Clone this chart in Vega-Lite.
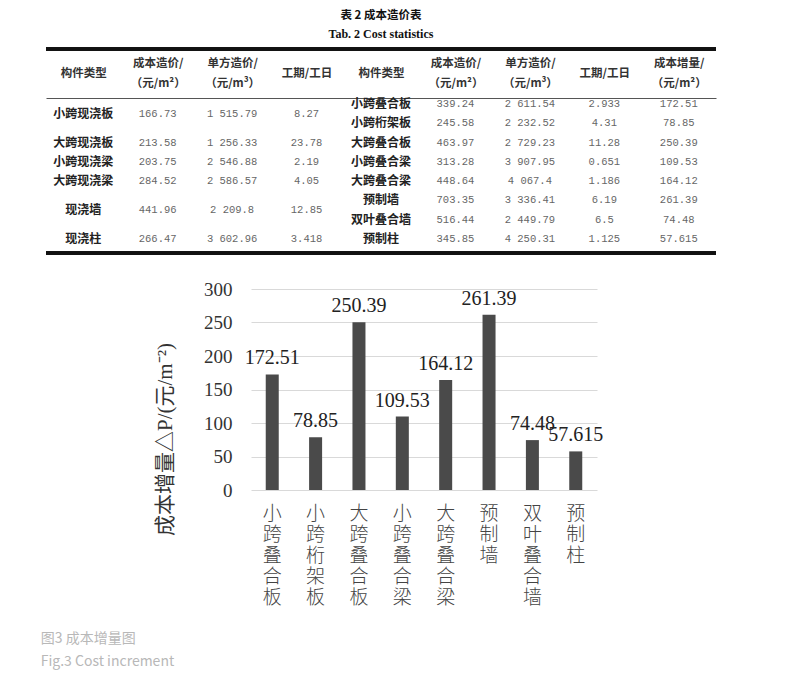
{
  "$schema": "https://vega.github.io/schema/vega-lite/v6.json",
  "background": "white",
  "padding": {"left": 40, "top": 10, "right": 5, "bottom": 5},
  "datasets": {
    "cost": [
      {"row": 1.5, "Lname": "小跨现浇板", "Lcost": 166.73, "Lunit": 1515.79, "Ldays": 8.27},
      {"row": 3, "Lname": "大跨现浇板", "Lcost": 213.58, "Lunit": 1256.33, "Ldays": 23.78},
      {"row": 4, "Lname": "小跨现浇梁", "Lcost": 203.75, "Lunit": 2546.88, "Ldays": 2.19},
      {"row": 5, "Lname": "大跨现浇梁", "Lcost": 284.52, "Lunit": 2586.57, "Ldays": 4.05},
      {"row": 6.5, "Lname": "现浇墙", "Lcost": 441.96, "Lunit": 2209.8, "Ldays": 12.85},
      {"row": 8, "Lname": "现浇柱", "Lcost": 266.47, "Lunit": 3602.96, "Ldays": 3.418},
      {"row": 1, "Rname": "小跨叠合板", "Rcost": 339.24, "Runit": 2611.54, "Rdays": 2.933, "Rincr": 172.51},
      {"row": 2, "Rname": "小跨桁架板", "Rcost": 245.58, "Runit": 2232.52, "Rdays": 4.31, "Rincr": 78.85},
      {"row": 3, "Rname": "大跨叠合板", "Rcost": 463.97, "Runit": 2729.23, "Rdays": 11.28, "Rincr": 250.39},
      {"row": 4, "Rname": "小跨叠合梁", "Rcost": 313.28, "Runit": 3907.95, "Rdays": 0.651, "Rincr": 109.53},
      {"row": 5, "Rname": "大跨叠合梁", "Rcost": 448.64, "Runit": 4067.4, "Rdays": 1.186, "Rincr": 164.12},
      {"row": 6, "Rname": "预制墙", "Rcost": 703.35, "Runit": 3336.41, "Rdays": 6.19, "Rincr": 261.39},
      {"row": 7, "Rname": "双叶叠合墙", "Rcost": 516.44, "Runit": 2449.79, "Rdays": 6.5, "Rincr": 74.48},
      {"row": 8, "Rname": "预制柱", "Rcost": 345.85, "Runit": 4250.31, "Rdays": 1.125, "Rincr": 57.615}
    ]
  },
  "title": {
    "text": ["图3 成本增量图", "Fig.3 Cost increment"],
    "orient": "bottom",
    "anchor": "start",
    "dx": -4,
    "font": "'Noto Sans CJK SC'",
    "fontSize": 14,
    "fontWeight": "normal",
    "color": "#b8b8b8",
    "lineHeight": 23,
    "offset": 25
  },
  "spacing": 25,
  "vconcat": [
    {
      "width": 670,
      "height": 155,
      "title": {
        "text": "表 2  成本造价表",
        "subtitle": "Tab. 2  Cost statistics",
        "anchor": "middle",
        "font": "'Noto Sans CJK SC'",
        "fontSize": 11.5,
        "fontWeight": "bold",
        "color": "#111",
        "subtitleFont": "'Liberation Serif'",
        "subtitleFontSize": 12,
        "subtitleFontWeight": "bold",
        "subtitleColor": "#111",
        "subtitlePadding": 7,
        "offset": 8
      },
      "data": {"name": "cost"},
      "layer": [
        {
          "transform": [{"fold": ["Lname", "Rname"]}, {"filter": "datum.value != null"}],
          "mark": {"type": "text", "font": "'Noto Sans CJK SC'", "fontSize": 12, "fontWeight": "bold", "color": "#222"},
          "encoding": {
            "x": {
              "field": "key",
              "type": "ordinal",
              "scale": {"domain": ["Lname", "Lcost", "Lunit", "Ldays", "Rname", "Rcost", "Runit", "Rdays", "Rincr"]},
              "axis": {
                "orient": "top",
                "title": null,
                "ticks": false,
                "domain": true,
                "domainColor": "#555",
                "domainWidth": 1,
                "labelAngle": 0,
                "labelBaseline": "middle",
                "labelPadding": 35,
                "labelFont": "'Noto Sans CJK SC'",
                "labelFontSize": 11.5,
                "labelFontWeight": "bold",
                "labelColor": "#333",
                "labelLineHeight": 10,
                "labelExpr": "{'Lname': ['\u200b', '构件类型', '\u200b'], 'Lcost': ['成本造价/', '\u200b', '（元/m²）'], 'Lunit': ['单方造价/', '\u200b', '（元/m³）'], 'Ldays': ['\u200b', '工期/工日', '\u200b'], 'Rname': ['\u200b', '构件类型', '\u200b'], 'Rcost': ['成本造价/', '\u200b', '（元/m²）'], 'Runit': ['单方造价/', '\u200b', '（元/m³）'], 'Rdays': ['\u200b', '工期/工日', '\u200b'], 'Rincr': ['成本增量/', '\u200b', '（元/m²）']}[datum.value]"
              }
            },
            "y": {"field": "row", "type": "quantitative", "scale": {"domain": [0.69, 8.73], "reverse": true, "zero": false, "nice": false}, "axis": null},
            "text": {"field": "value"}
          }
        },
        {
          "transform": [{"fold": ["Lcost", "Lunit", "Ldays", "Rcost", "Runit", "Rdays", "Rincr"]}, {"filter": "datum.value != null"}],
          "mark": {"type": "text", "font": "'Liberation Mono'", "fontSize": 10.5, "color": "#666"},
          "encoding": {
            "x": {"field": "key", "type": "ordinal"},
            "y": {"field": "row", "type": "quantitative"},
            "text": {"field": "value", "type": "quantitative", "format": ",~f"}
          }
        },
        {
          "mark": {"type": "rule", "strokeWidth": 2.5, "color": "#111"},
          "encoding": {"y": {"datum": -1.85}}
        },
        {
          "mark": {"type": "rule", "strokeWidth": 2.5, "color": "#111"},
          "encoding": {"y": {"datum": 8.73}}
        }
      ]
    },
    {
      "spacing": 0,
      "hconcat": [
        {
          "width": 108,
          "height": 10,
          "data": {"values": [{}]},
          "mark": {"type": "point", "opacity": 0},
          "encoding": {}
        },
        {
          "width": 346,
          "height": 201,
          "data": {"name": "cost"},
          "transform": [{"filter": "datum.Rname != null"}],
          "encoding": {
            "x": {
              "field": "Rname",
              "type": "nominal",
              "sort": null,
              "scale": {"paddingInner": 0.7, "paddingOuter": 0.34},
              "axis": {
                "title": null,
                "labelAngle": 0,
                "ticks": false,
                "domain": false,
                "grid": false,
                "labelExpr": "split(datum.label, '')",
                "labelBaseline": "top",
                "labelLineHeight": 21,
                "labelFont": "'Noto Sans CJK SC'",
                "labelFontSize": 19,
                "labelFontWeight": 300,
                "labelColor": "#444",
                "labelPadding": 14
              }
            },
            "y": {
              "field": "Rincr",
              "type": "quantitative",
              "scale": {"domain": [0, 300]},
              "axis": {
                "values": [0, 50, 100, 150, 200, 250, 300],
                "title": "成本增量△P/(元/m⁻²)",
                "titleFont": "'Liberation Serif', 'Noto Sans CJK SC'",
                "titleFontSize": 21,
                "titleFontWeight": "normal",
                "titleColor": "#333",
                "titlePadding": 28,
                "titleY": 150,
                "ticks": false,
                "domain": false,
                "gridColor": "#d9d9d9",
                "labelFont": "'Liberation Serif'",
                "labelFontSize": 19,
                "labelColor": "#333",
                "labelPadding": 19
              }
            }
          },
          "layer": [
            {"mark": {"type": "bar", "color": "#4a4a4a"}},
            {
              "mark": {"type": "text", "baseline": "alphabetic", "dy": -10, "font": "'Liberation Serif'", "fontSize": 20, "color": "#222"},
              "encoding": {"text": {"field": "Rincr", "type": "quantitative", "format": "~f"}}
            }
          ]
        }
      ]
    }
  ],
  "config": {
    "view": {"stroke": null},
    "locale": {"number": {"decimal": ".", "thousands": " ", "grouping": [3], "currency": ["", ""]}}
  }
}
